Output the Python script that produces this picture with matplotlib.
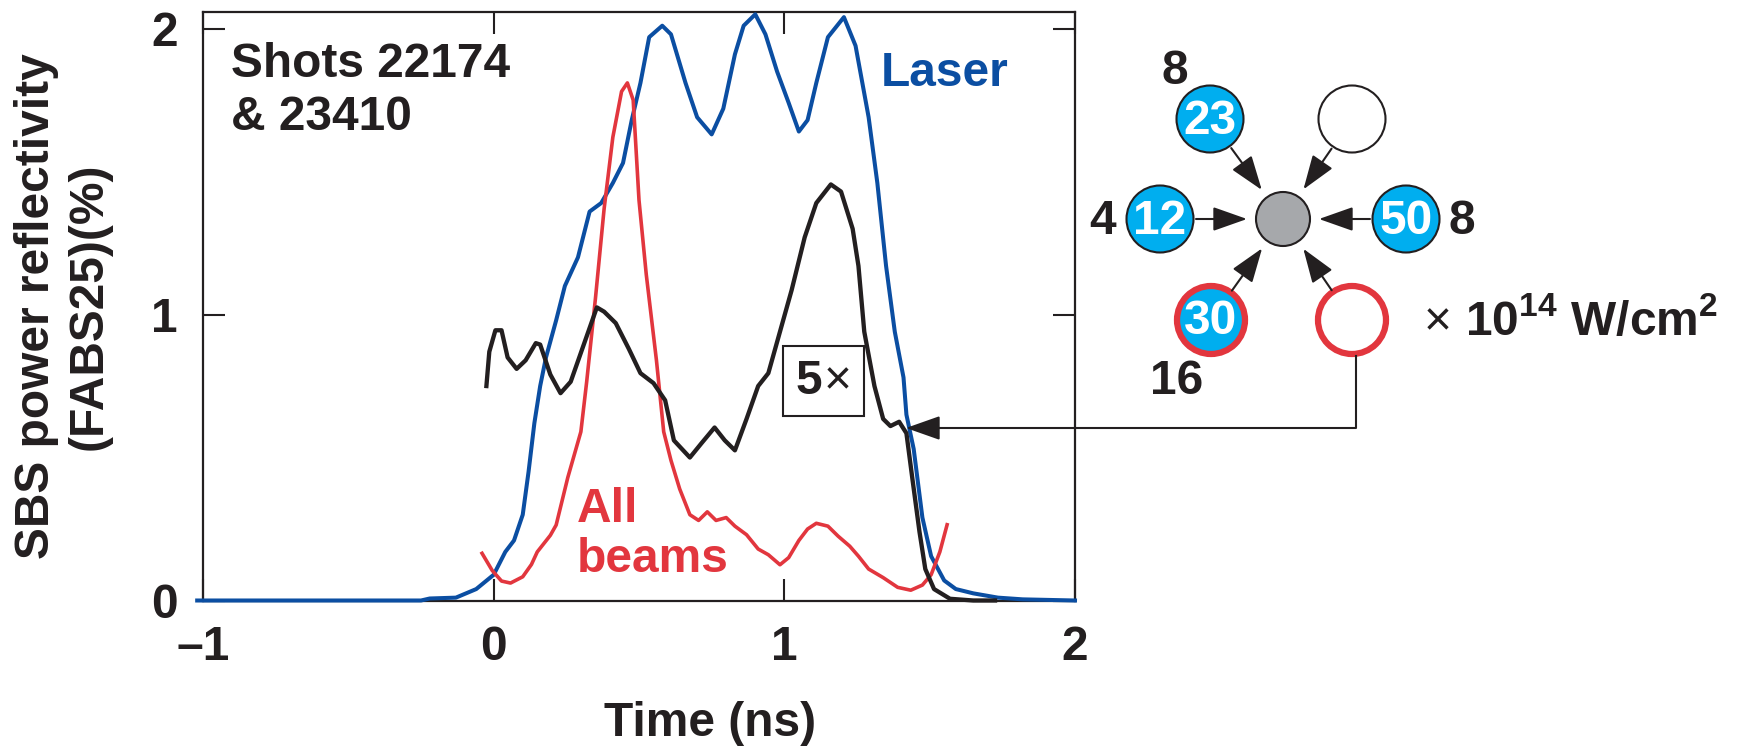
import matplotlib
matplotlib.use('Agg')
import numpy as np
import matplotlib.pyplot as plt
from matplotlib.patches import Circle
from matplotlib.offsetbox import TextArea, HPacker, AnnotationBbox

plt.rcParams['font.family'] = ['Liberation Sans Narrow', 'Liberation Sans', 'DejaVu Sans']
plt.rcParams['font.weight'] = 'bold'
plt.rcParams['mathtext.fontset'] = 'custom'
plt.rcParams['mathtext.rm'] = 'Liberation Sans:bold'
plt.rcParams['mathtext.it'] = 'Liberation Sans:bold'
plt.rcParams['mathtext.bf'] = 'Liberation Sans:bold'

# laser pulse (scaled)
laser_t = [-1.02, -0.25, -0.22, -0.13, -0.06, 0.0, 0.04, 0.07, 0.10, 0.12, 0.14, 0.16,
           0.18, 0.215, 0.245, 0.29, 0.33, 0.37, 0.41, 0.445, 0.475, 0.505, 0.535, 0.58,
           0.61, 0.66, 0.70, 0.75, 0.79, 0.83, 0.86, 0.90, 0.935, 0.975, 1.015, 1.05,
           1.08, 1.11, 1.15, 1.205, 1.245, 1.29, 1.32, 1.35, 1.38, 1.41, 1.42, 1.445,
           1.475, 1.505, 1.55, 1.59, 1.65, 1.735, 1.82, 2.0]
laser_r = [0.0, 0.0, 0.007, 0.01, 0.04, 0.09, 0.17, 0.21, 0.30, 0.45, 0.62, 0.75,
           0.85, 0.98, 1.10, 1.20, 1.36, 1.39, 1.46, 1.53, 1.68, 1.81, 1.97, 2.01,
           1.98, 1.81, 1.69, 1.63, 1.72, 1.91, 2.01, 2.05, 1.98, 1.85, 1.74, 1.64,
           1.68, 1.81, 1.97, 2.04, 1.94, 1.69, 1.46, 1.17, 0.94, 0.78, 0.65, 0.53,
           0.29, 0.155, 0.07, 0.04, 0.025, 0.01, 0.004, 0.0]

# SBS reflectivity, all beams
all_t = [-0.04, -0.005, 0.027, 0.058, 0.10, 0.13, 0.15, 0.195, 0.215, 0.255, 0.30, 0.32,
         0.35, 0.38, 0.41, 0.44, 0.46, 0.48, 0.50, 0.525, 0.56, 0.585, 0.61, 0.64,
         0.675, 0.705, 0.735, 0.765, 0.80, 0.83, 0.87, 0.91, 0.945, 0.985, 1.015, 1.05,
         1.08, 1.11, 1.15, 1.185, 1.225, 1.255, 1.29, 1.34, 1.39, 1.435, 1.475, 1.505,
         1.535, 1.56]
all_r = [0.165, 0.105, 0.068, 0.061, 0.083, 0.126, 0.17, 0.228, 0.264, 0.43, 0.59, 0.765,
         1.055, 1.37, 1.62, 1.78, 1.81, 1.75, 1.40, 1.14, 0.84, 0.59, 0.49, 0.39,
         0.30, 0.28, 0.31, 0.28, 0.29, 0.26, 0.23, 0.18, 0.16, 0.125, 0.15, 0.21,
         0.25, 0.27, 0.26, 0.225, 0.19, 0.155, 0.11, 0.08, 0.046, 0.036, 0.054, 0.09,
         0.17, 0.265]

# SBS reflectivity, beam 25 (x5)
b25_t = [-0.025, -0.015, 0.006, 0.027, 0.048, 0.079, 0.11, 0.145, 0.16, 0.195, 0.23,
         0.265, 0.31, 0.355, 0.38, 0.42, 0.465, 0.505, 0.55, 0.59, 0.62, 0.675, 0.715,
         0.76, 0.795, 0.83, 0.87, 0.91, 0.945, 0.985, 1.025, 1.07, 1.11, 1.16, 1.195,
         1.235, 1.255, 1.275, 1.31, 1.34, 1.365, 1.395, 1.42, 1.44, 1.465, 1.485, 1.515,
         1.57, 1.65, 1.725]
b25_r = [0.75, 0.87, 0.945, 0.945, 0.85, 0.81, 0.84, 0.90, 0.895, 0.79, 0.725,
         0.765, 0.895, 1.025, 1.01, 0.97, 0.88, 0.795, 0.76, 0.70, 0.56, 0.50, 0.55,
         0.605, 0.56, 0.525, 0.635, 0.75, 0.795, 0.94, 1.085, 1.27, 1.39, 1.455, 1.43,
         1.30, 1.17, 0.94, 0.75, 0.635, 0.61, 0.625, 0.585, 0.43, 0.24, 0.11, 0.04,
         0.006, 0.0, 0.0]

x_ticks = [-1, 0, 1, 2]
x_ticklabels = ['\u20131', '0', '1', '2']
y_ticks = [0, 1, 2]

# beam diagram (irradiation map)
beam_ids = ['23', '', '12', '50', '30', '']
beam_intensity = ['8', '', '4', '8', '16', '']

BLUE = '#0b4ea2'
RED = '#e2363e'
INK = '#231f20'
CYAN = '#00aeef'
GREY = '#a6a8ab'
FS = 34.5

W, H = 1743, 751
fig = plt.figure(figsize=(W / 100, H / 100), dpi=100)
ax = fig.add_axes([203 / W, 1 - 600.5 / H, 872 / W, 588.5 / H])

ax.plot(laser_t, laser_r, color=BLUE, lw=2.9, zorder=3, clip_on=False)
ax.plot(all_t, all_r, color=RED, lw=2.6, zorder=3)
ax.plot(b25_t, b25_r, color=INK, lw=3.1, zorder=4, clip_on=False)

ax.set_xlim(-1, 2)
ax.set_ylim(0, 2.058)
ax.set_xticks(x_ticks)
ax.set_xticklabels(x_ticklabels)
ax.set_yticks(y_ticks)
ax.tick_params(direction='in', length=16, width=1.5, color=INK, labelsize=FS,
               labelcolor=INK, top=True, right=True, pad=18)
for s in ax.spines.values():
    s.set_linewidth(1.6)
    s.set_color(INK)

fig.text(63 / W, 1 - 306 / H, 'SBS power reflectivity\n(FABS25)(%)', rotation=90,
         ha='center', va='center', fontsize=FS, color=INK, linespacing=1.2)
fig.text(710 / W, 1 - 724 / H, 'Time (ns)', ha='center', va='center', fontsize=FS, color=INK)

ax.text(-0.905, 1.83, 'Shots 22174', fontsize=FS, color=INK, va='baseline', ha='left')
ax.text(-0.905, 1.645, '& 23410', fontsize=FS, color=INK, va='baseline', ha='left')
ax.text(1.33, 1.80, 'Laser', fontsize=FS, color=BLUE, va='baseline', ha='left')
ax.text(0.287, 0.2745, 'All', fontsize=FS, color=RED, va='baseline', ha='left')
ax.text(0.287, 0.0997, 'beams', fontsize=FS, color=RED, va='baseline', ha='left')

five = HPacker(children=[TextArea('5', textprops=dict(fontsize=FS, color=INK, weight='bold')),
                         TextArea('\u00d7', textprops=dict(fontsize=FS, color=INK, weight='normal'))],
               pad=0, sep=1)
ab = AnnotationBbox(five, (1.135, 0.766), xycoords='data', frameon=True, pad=0.26,
                    fontsize=FS, bboxprops=dict(lw=1.5, ec=INK, fc='white'))
ax.add_artist(ab)

# overlay in pixel coordinates for the beam diagram
ov = fig.add_axes([0, 0, 1, 1], zorder=5)
ov.set_xlim(0, W)
ov.set_ylim(H, 0)
ov.axis('off')

centre = np.array([1283.0, 219.0])
beam_xy = [(1210, 119), (1352, 119), (1160, 219), (1406, 219), (1211, 320), (1352, 320)]
label_xy = [(1175, 72), None, (1103, 222), (1462, 222), (1177, 382), None]
ring = [False, False, False, False, True, True]

ov.add_patch(Circle(centre, 27, fc=GREY, ec=INK, lw=1.5))
for bid, lab, xy, lxy, rg in zip(beam_ids, beam_intensity, beam_xy, label_xy, ring):
    xy = np.array(xy, float)
    if rg:
        ov.add_patch(Circle(xy, 34, fc=CYAN if bid else 'white', ec=RED, lw=4.5))
    else:
        ov.add_patch(Circle(xy, 33.5, fc=CYAN if bid else 'white', ec=INK, lw=1.5))
    if bid:
        ov.text(xy[0], xy[1] + 2, bid, color='white', fontsize=FS, ha='center', va='center')
    if lxy is not None:
        ov.text(lxy[0], lxy[1], lab, color=INK, fontsize=FS, ha='center', va='center')
    u = (centre - xy) / np.hypot(*(centre - xy))
    ov.annotate('', xy=centre - 36 * u, xytext=xy + 36 * u,
                arrowprops=dict(arrowstyle='-|>,head_length=0.85,head_width=0.3', color=INK,
                                lw=1.5, mutation_scale=25, shrinkA=0, shrinkB=0))

ov.text(1424, 335, '\u00d7', color=INK, fontsize=FS, weight='normal', ha='left', va='baseline')
ov.text(1465, 335, '10$^{14}$ W/cm$^{2}$', color=INK, fontsize=FS, ha='left', va='baseline')

# connector from the red ring to the beam-25 curve
ov.plot([1356, 1356, 930], [356, 428, 428], color=INK, lw=1.5)
ov.annotate('', xy=(906, 428), xytext=(940, 428),
            arrowprops=dict(arrowstyle='-|>,head_length=0.85,head_width=0.3', color=INK,
                            lw=1.5, mutation_scale=25, shrinkA=0, shrinkB=0))

fig.savefig('out.png', dpi=100)
